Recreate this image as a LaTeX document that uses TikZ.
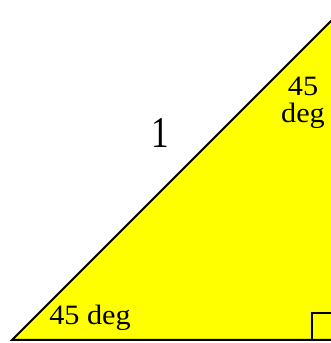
\documentclass[tikz,border=0pt]{standalone}
\usepackage{fontspec}
\setmainfont{Liberation Serif}
\usepackage{tikz}
\definecolor{TriYellow}{HTML}{FFFF00}
\tikzset{anglelabel/.style={font=\fontsize{28}{27}\selectfont, xscale=1.08, inner sep=0pt, align=center}}

\begin{document}
\begin{tikzpicture}[x=1pt, y=1pt]
  \useasboundingbox (0,0) rectangle (331,343);
  \clip (0,0) rectangle (331,343);
  \coordinate (A) at (12,3);
  \coordinate (B) at (333,3);
  \coordinate (C) at (333,324);
  \draw[black,line width=2pt,fill=TriYellow] (A) -- (B) -- (C) -- cycle;
  \draw[black,line width=2pt] (312,3) rectangle (340,30);
  \node[font=\fontsize{44}{48}\selectfont,xscale=0.8,anchor=base] (side) at (160,195) {1};
  \node[anglelabel,anchor=base] (angA) at (90,19) {45 deg};
  \node[anglelabel] (angC) at (303,240) {45\\deg};
\end{tikzpicture}
\end{document}
